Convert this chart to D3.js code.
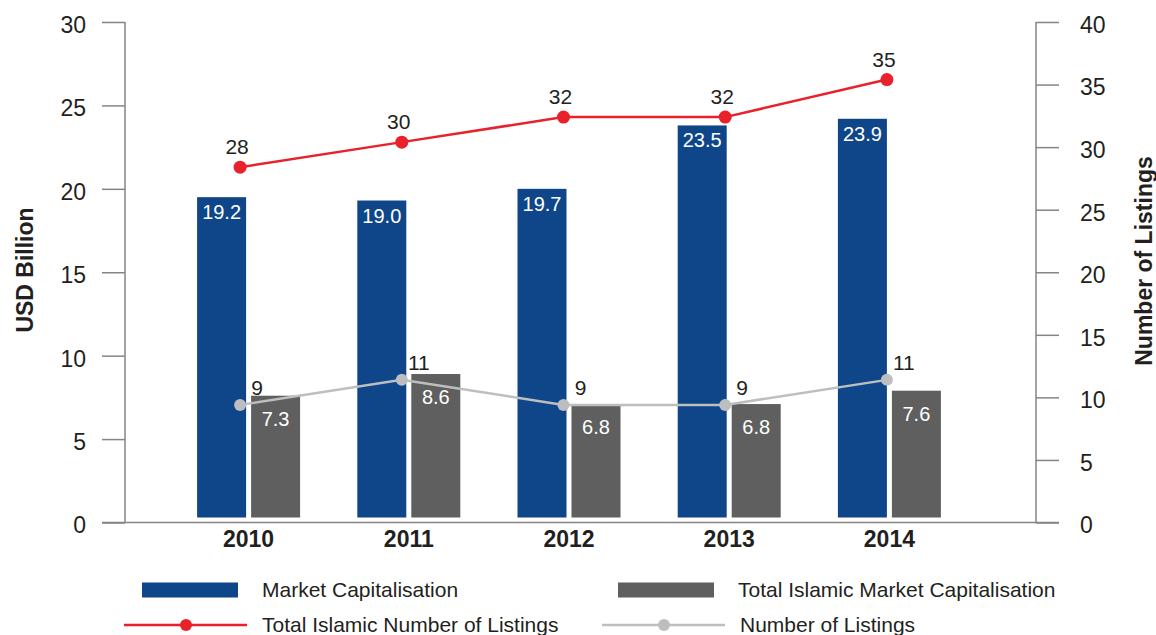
<!DOCTYPE html>
<html>
<head>
<meta charset="utf-8">
<script src="https://cdn.jsdelivr.net/npm/d3@7"></script>
<style>
body { margin: 0; background: #fff; }
svg text { font-family: "Liberation Sans", Arial, Helvetica, sans-serif; fill: #231f20; }
</style>
</head>
<body>
<svg width="1156" height="635"></svg>
<script>
let years = ["2010", "2011", "2012", "2013", "2014"]
let marketCap = [19.2, 19.0, 19.7, 23.5, 23.9]
let islamicCap = [7.3, 8.6, 6.8, 6.8, 7.6]
let islamicListings = [28, 30, 32, 32, 35]
let listings = [9, 11, 9, 9, 11]
let leftTicks = [0, 5, 10, 15, 20, 25, 30]
let rightTicks = [0, 5, 10, 15, 20, 25, 30, 35, 40]

let blue = "#0f4589", darkGray = "#5e5f5e", red = "#e8212b", lightGray = "#bdbec0"

let svg = d3.select("svg")

let plot = { left: 125, right: 1036, top: 22, bottom: 522.5 }

let x = d3.scaleBand().domain(years).range([168.5, 969.5])
let center = d => x(d) + x.bandwidth() / 2
let xLine = d3.scalePoint().domain(years)
    .range([center(years[0]) - 8.5, center(years[years.length - 1]) - 2.5])

let yL = d3.scaleLinear().domain([0, 30]).range([plot.bottom, plot.top])
let yR = d3.scaleLinear().domain([0, 40]).range([plot.bottom, plot.top])

// axes
let leftAxis = d3.axisLeft(yL).tickValues(leftTicks).tickSize(23).tickPadding(16)
let rightAxis = d3.axisRight(yR).tickValues(rightTicks).tickSize(23).tickPadding(21)

function styleAxis(g) {
    g.select(".domain").remove()
    g.selectAll(".tick line").attr("stroke", "#858585").attr("stroke-width", 1.5)
    g.selectAll(".tick text").attr("font-size", 23).attr("dy", "0.45em").attr("fill", "#231f20")
}

svg.append("g").attr("transform", "translate(" + plot.left + ",0)").call(leftAxis).call(styleAxis)
svg.append("g").attr("transform", "translate(" + plot.right + ",0)").call(rightAxis).call(styleAxis)

svg.append("line")
    .attr("x1", plot.left).attr("x2", plot.left)
    .attr("y1", plot.top).attr("y2", plot.bottom)
    .attr("stroke", "#858585").attr("stroke-width", 1.5)
svg.append("line")
    .attr("x1", plot.right).attr("x2", plot.right)
    .attr("y1", plot.top).attr("y2", plot.bottom)
    .attr("stroke", "#858585").attr("stroke-width", 1.5)
svg.append("line")
    .attr("x1", plot.left - 23).attr("x2", plot.right + 23)
    .attr("y1", yL(0)).attr("y2", yL(0))
    .attr("stroke", "#858585").attr("stroke-width", 1.5)

// year labels
svg.append("g").selectAll("text")
    .data(years).join("text")
    .attr("x", d => center(d))
    .attr("y", 547)
    .attr("text-anchor", "middle")
    .attr("font-size", 23)
    .attr("font-weight", "bold")
    .text(d => d)

// axis titles
svg.append("text")
    .attr("transform", "translate(33,270) rotate(-90)")
    .attr("text-anchor", "middle")
    .attr("font-size", 23)
    .attr("font-weight", "bold")
    .text("USD Billion")

svg.append("text")
    .attr("transform", "translate(1152,261) rotate(-90)")
    .attr("text-anchor", "middle")
    .attr("font-size", 23)
    .attr("font-weight", "bold")
    .text("Number of Listings")

// data layer sits a few px above the axis baseline, as in the source
let data = svg.append("g").attr("transform", "translate(0,-5)")

let rows = years.map((d, i) => ({
    year: d, cap: marketCap[i], icap: islamicCap[i], il: islamicListings[i], l: listings[i]
}))

data.selectAll(".barCap").data(rows).join("rect")
    .attr("class", "barCap")
    .attr("x", d => center(d.year) - 51.5)
    .attr("width", 49)
    .attr("y", d => yL(d.cap))
    .attr("height", d => yL(0) - yL(d.cap))
    .attr("fill", blue)

data.selectAll(".barIcap").data(rows).join("rect")
    .attr("class", "barIcap")
    .attr("x", d => center(d.year) + 2.5)
    .attr("width", 49)
    .attr("y", d => yL(d.icap))
    .attr("height", d => yL(0) - yL(d.icap))
    .attr("fill", darkGray)

data.selectAll(".capLabel").data(rows).join("text")
    .attr("class", "capLabel")
    .attr("x", d => center(d.year) - 27)
    .attr("y", d => yL(d.cap) + 22)
    .attr("text-anchor", "middle")
    .attr("font-size", 20)
    .style("fill", "#fff")
    .text(d => d.cap.toFixed(1))

data.selectAll(".icapLabel").data(rows).join("text")
    .attr("class", "icapLabel")
    .attr("x", d => center(d.year) + 27)
    .attr("y", d => yL(d.icap) + 30)
    .attr("text-anchor", "middle")
    .attr("font-size", 20)
    .style("fill", "#fff")
    .text(d => d.icap.toFixed(1))

// lines
let grayLine = d3.line().x(d => xLine(d.year)).y(d => yR(d.l))
let redLine = d3.line().x(d => xLine(d.year)).y(d => yR(d.il))

data.append("path").datum(rows)
    .attr("d", grayLine)
    .attr("fill", "none")
    .attr("stroke", lightGray)
    .attr("stroke-width", 2.5)

data.selectAll(".grayDot").data(rows).join("circle")
    .attr("class", "grayDot")
    .attr("cx", d => xLine(d.year))
    .attr("cy", d => yR(d.l))
    .attr("r", 6)
    .attr("fill", lightGray)

data.append("path").datum(rows)
    .attr("d", redLine)
    .attr("fill", "none")
    .attr("stroke", red)
    .attr("stroke-width", 2.5)

data.selectAll(".redDot").data(rows).join("circle")
    .attr("class", "redDot")
    .attr("cx", d => xLine(d.year))
    .attr("cy", d => yR(d.il))
    .attr("r", 6.5)
    .attr("fill", red)

data.selectAll(".grayLabel").data(rows).join("text")
    .attr("class", "grayLabel")
    .attr("x", d => xLine(d.year) + 17)
    .attr("y", d => yR(d.l) - 10)
    .attr("text-anchor", "middle")
    .attr("font-size", 21)
    .text(d => d.l)

data.selectAll(".redLabel").data(rows).join("text")
    .attr("class", "redLabel")
    .attr("x", d => xLine(d.year) - 3)
    .attr("y", d => yR(d.il) - 13)
    .attr("text-anchor", "middle")
    .attr("font-size", 21)
    .text(d => d.il)

// legend
let legendItems = [
    { label: "Market Capitalisation", type: "rect", color: blue, x: 142, y: 590 },
    { label: "Total Islamic Market Capitalisation", type: "rect", color: darkGray, x: 618, y: 590 },
    { label: "Total Islamic Number of Listings", type: "line", color: red, x: 124, y: 625 },
    { label: "Number of Listings", type: "line", color: lightGray, x: 602, y: 625 }
]

let legend = svg.append("g")
legendItems.forEach(item => {
    if (item.type === "rect") {
        legend.append("rect")
            .attr("x", item.x).attr("y", item.y - 7.5)
            .attr("width", 96).attr("height", 15)
            .attr("fill", item.color)
        legend.append("text")
            .attr("x", item.x + 120).attr("y", item.y + 7)
            .attr("font-size", 21)
            .text(item.label)
    } else {
        legend.append("line")
            .attr("x1", item.x).attr("x2", item.x + 123)
            .attr("y1", item.y).attr("y2", item.y)
            .attr("stroke", item.color).attr("stroke-width", 2.5)
        legend.append("circle")
            .attr("cx", item.x + 62).attr("cy", item.y)
            .attr("r", 6).attr("fill", item.color)
        legend.append("text")
            .attr("x", item.x + 138).attr("y", item.y + 7)
            .attr("font-size", 21)
            .text(item.label)
    }
})
</script>
</body>
</html>
